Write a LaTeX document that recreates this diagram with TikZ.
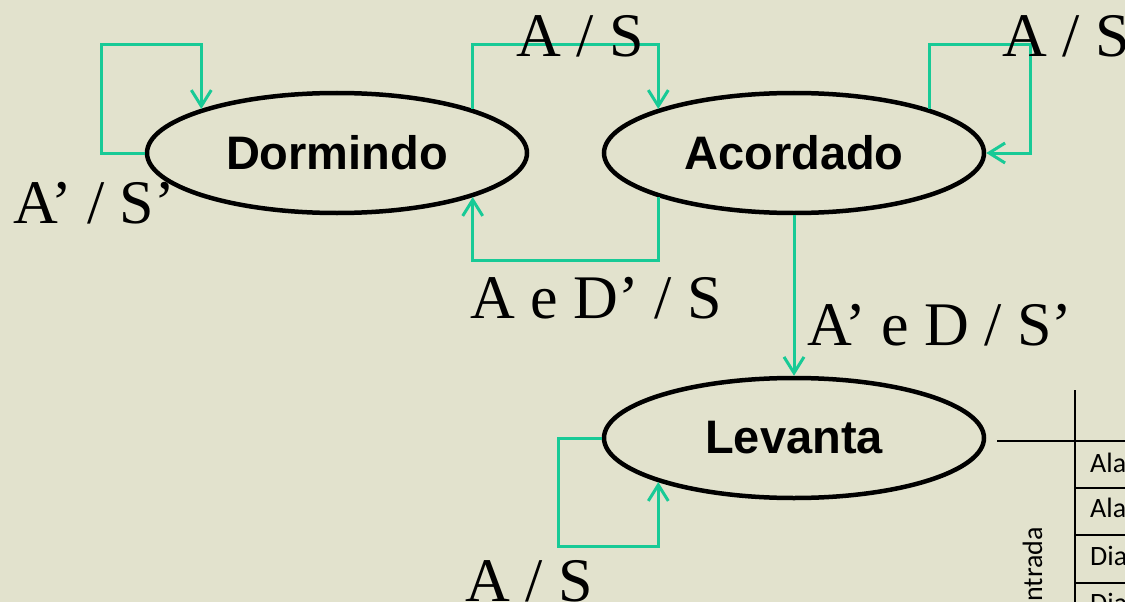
\documentclass[tikz,border=0pt]{standalone}
\usepackage{fontspec}
\setmainfont{Liberation Serif}
\newfontfamily\headfont{Liberation Sans}
\newfontfamily\cellfont{Carlito}
\usetikzlibrary{shapes.geometric,arrows.meta}

\definecolor{paper}{RGB}{226,226,205}
\definecolor{trans}{RGB}{24,202,150}

\tikzset{
  state/.style={ellipse, draw=black, line width=4.5pt, minimum width=380pt,
    minimum height=120pt, inner sep=0pt,
    font=\headfont\bfseries\fontsize{47}{50}\selectfont},
  flow/.style={draw=trans, line width=3pt,
    -{Straight Barb[length=16pt,width=20pt,line width=3pt]}},
  cond/.style={anchor=base west, inner sep=0pt,
    font=\fontsize{62}{64}\selectfont},
  grid/.style={line width=2.8pt, black},
  cell/.style={anchor=base west, inner sep=0pt,
    font=\cellfont\fontsize{28}{30}\selectfont}
}

\begin{document}
\begin{tikzpicture}[x=1pt,y=-1pt]
  \fill[paper] (0,0) rectangle (1125,602);
  \useasboundingbox (0,0) rectangle (1125,602);

  % states
  \node[state] (D) at (337,153) {Dormindo};
  \node[state] (A) at (794,153) {Acordado};
  \node[state] (L) at (794,438) {Levanta};

  % helper corners of the routed transitions
  \coordinate (top) at (0,45);
  \coordinate (bot) at (0,260);
  \coordinate (dl) at (101,45);
  \coordinate (ar) at (1030,45);
  \coordinate (lb) at (558,546);

  % transitions
  \draw[flow] (D.west) -| (dl) -| (D.162);
  \draw[flow] (D.18) -- (D.18 |- top) -| (A.162);
  \draw[flow] (A.18) -- (A.18 |- top) -- (ar) |- (A.east);
  \draw[flow] (A.198) -- (A.198 |- bot) -| (D.342);
  \draw[flow] (A.south) -- (L.north);
  \draw[flow] (L.west) -| (lb) -| (L.198);

  % transition conditions
  \node[cond] (c1) at (516,57) {A / S};
  \node[cond] (c2) at (1002,57) {A / S};
  \node[cond] (c3) at (13,223) {A’ / S’};
  \node[cond] (c4) at (470,318) {A e D’ / S};
  \node[cond] (c5) at (807,345) {A’ e D / S’};
  \node[cond] (c6) at (465,601) {A / S};

  % input table
  \coordinate (t0) at (1075,390);
  \coordinate (t1) at (1075,615);
  \coordinate (h0) at (997,441);
  \coordinate (h1) at (1130,441);
  \draw[grid] (t0) -- (t1);
  \draw[grid] (h0) -- (h1);
  \foreach \y in {488,535,583}
    \draw[grid] (1075,\y) -- (1130,\y);
  \node[cell] (r1) at (1090,472) {Ala};
  \node[cell] (r2) at (1090,517) {Ala};
  \node[cell] (r3) at (1090,565) {Dia};
  \node[cell] (r4) at (1090,612) {Dia};
  \node[cell, rotate=90, anchor=base east] (in) at (1042,527) {ntrada};
\end{tikzpicture}
\end{document}
